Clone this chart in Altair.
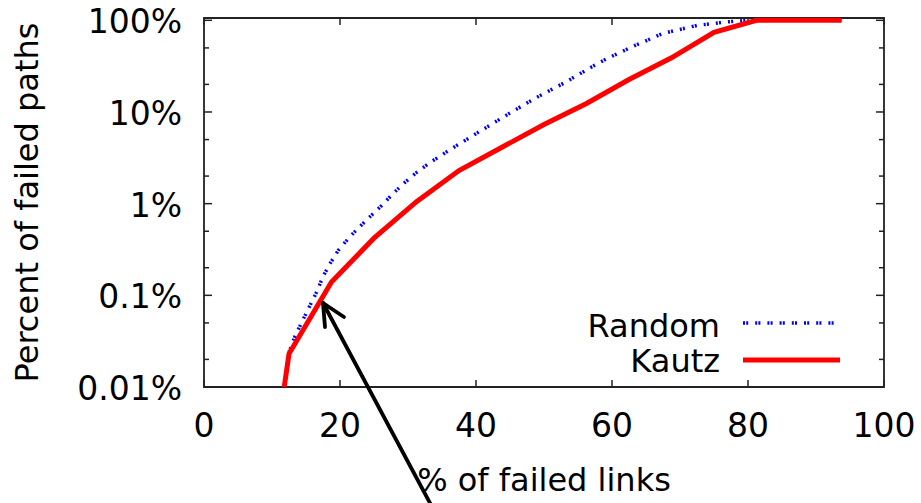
import altair as alt
import pandas as pd

# ---------------- data ----------------
series_names = ["Random", "Kautz"]

random_x = [12.5, 13.4, 14.85, 16.6, 17.5, 18.5, 19.75, 21.5, 22.9, 24.4, 26.1,
            27.8, 29.6, 31.3, 33.2, 36.7, 40.8, 44.75, 48.9, 53.1, 57.0, 59.2,
            63.1, 67.5, 72.5, 76.9, 80.0, 93.75]
random_y = [0.024, 0.036, 0.06, 0.11, 0.16, 0.22, 0.31, 0.44, 0.56, 0.72, 0.95,
            1.29, 1.72, 2.2, 2.8, 4.1, 6.3, 9.5, 14.4, 21, 31, 38,
            52, 72, 88, 96, 100, 100]

kautz_x = [11.8, 12.5, 18.75, 25, 31.25, 37.5, 43.75, 50, 56.25, 62.5, 68.75,
           75, 81.25, 87.5, 93.75]
kautz_y = [0.01, 0.023, 0.14, 0.42, 1.05, 2.3, 4.1, 7.3, 12.4, 22.6, 39,
           74, 100, 100, 100]

x_ticks = [0, 20, 40, 60, 80, 100]
y_major = [0.01, 0.1, 1, 10, 100]
y_minor = [0.02, 0.05, 0.2, 0.5, 2, 5, 20, 50]

x_title = "% of failed links"
y_title = "Percent of failed paths"

# ---------------- layout ----------------
W, H = 680, 369
FONT = "DejaVu Sans"
FS = 32
FRAME = "#222222"
RAND_DASH = [2, 1.2, 2, 7]

df_random = pd.DataFrame({"x": random_x, "y": random_y})
df_kautz = pd.DataFrame({"x": kautz_x, "y": kautz_y})
df_xt = pd.DataFrame({"x": x_ticks})
df_ymaj = pd.DataFrame({"y": y_major})
df_ymin = pd.DataFrame({"y": y_minor})

x_scale = alt.Scale(domain=[0, 100], nice=False, zero=False)
y_scale = alt.Scale(type="log", domain=[0.01, 106], nice=False)

X = alt.X("x:Q", scale=x_scale, axis=None)
Y = alt.Y("y:Q", scale=y_scale, axis=None)

rand_line = alt.Chart(df_random).mark_line(
    color="#0000ff", strokeWidth=3.5, strokeDash=RAND_DASH
).encode(x=X, y=Y)

kautz_line = alt.Chart(df_kautz).mark_line(
    color="#ff0000", strokeWidth=5
).encode(x=X, y=Y)

# inward tick marks on all four sides of the frame (through the scales)
tick_style = dict(color=FRAME, strokeWidth=1.5)
ticks = [
    alt.Chart(df_ymaj).mark_rule(**tick_style).encode(
        y=Y, x=alt.value(0), x2=alt.value(8)),
    alt.Chart(df_ymaj).mark_rule(**tick_style).encode(
        y=Y, x=alt.value(W - 8), x2=alt.value(W)),
    alt.Chart(df_ymin).mark_rule(**tick_style).encode(
        y=Y, x=alt.value(0), x2=alt.value(5)),
    alt.Chart(df_ymin).mark_rule(**tick_style).encode(
        y=Y, x=alt.value(W - 5), x2=alt.value(W)),
    alt.Chart(df_xt).mark_rule(**tick_style).encode(
        x=X, y=alt.value(H - 7), y2=alt.value(H)),
    alt.Chart(df_xt).mark_rule(**tick_style).encode(
        x=X, y=alt.value(0), y2=alt.value(7)),
]

# tick labels and axis titles
text_style = dict(font=FONT, color="black")
y_labels = alt.Chart(df_ymaj).transform_calculate(
    label="datum.y + '%'"
).mark_text(
    align="right", baseline="middle", fontSize=33, dy=3, **text_style
).encode(y=Y, x=alt.value(-22), text="label:N")

x_labels = alt.Chart(df_xt).mark_text(
    align="center", baseline="top", fontSize=33, **text_style
).encode(x=X, y=alt.value(H + 24), text="x:Q")

one = pd.DataFrame({"k": [0]})
x_title_mark = alt.Chart(one).mark_text(
    text=x_title, align="center", baseline="alphabetic", fontSize=FS,
    **text_style
).encode(x=alt.value(W / 2), y=alt.value(H + 104))
y_title_mark = alt.Chart(one).mark_text(
    text=y_title, align="center", baseline="alphabetic", fontSize=FS,
    angle=270, **text_style
).encode(x=alt.value(-166), y=alt.value(H / 2))

# legend (labels left of the line samples, as in the reference)
leg_random_text = alt.Chart(one).mark_text(
    text=series_names[0], align="right", baseline="alphabetic",
    fontSize=FS, **text_style
).encode(x=alt.value(516), y=alt.value(319))
leg_random_line = alt.Chart(one).mark_rule(
    color="#0000ff", strokeWidth=3.5, strokeDash=RAND_DASH
).encode(x=alt.value(539), x2=alt.value(636), y=alt.value(305))
leg_kautz_text = alt.Chart(one).mark_text(
    text=series_names[1], align="right", baseline="alphabetic",
    fontSize=FS, **text_style
).encode(x=alt.value(516), y=alt.value(354))
leg_kautz_line = alt.Chart(one).mark_rule(
    color="#ff0000", strokeWidth=5
).encode(x=alt.value(539), x2=alt.value(636), y=alt.value(342))

# annotation arrow
arrow_style = dict(color="black", strokeWidth=3.8, strokeCap="round")
arrow_shaft = alt.Chart(one).mark_rule(**arrow_style).encode(
    x=alt.value(119), y=alt.value(285), x2=alt.value(242), y2=alt.value(515))
arrow_w1 = alt.Chart(one).mark_rule(**arrow_style).encode(
    x=alt.value(119), y=alt.value(285), x2=alt.value(140), y2=alt.value(299))
arrow_w2 = alt.Chart(one).mark_rule(**arrow_style).encode(
    x=alt.value(119), y=alt.value(285), x2=alt.value(121), y2=alt.value(309))

chart = alt.layer(
    *ticks, rand_line, kautz_line,
    y_labels, x_labels, x_title_mark, y_title_mark,
    leg_random_text, leg_random_line, leg_kautz_text, leg_kautz_line,
    arrow_shaft, arrow_w1, arrow_w2,
).properties(
    width=W, height=H,
    autosize=alt.AutoSizeParams(type="none"),
    padding={"left": 204, "top": 18, "right": 37, "bottom": 116},
    background="white",
).configure_view(
    stroke=FRAME, strokeWidth=1.8
)

chart.save("out.html", embed_options={"renderer": "svg", "actions": False})
